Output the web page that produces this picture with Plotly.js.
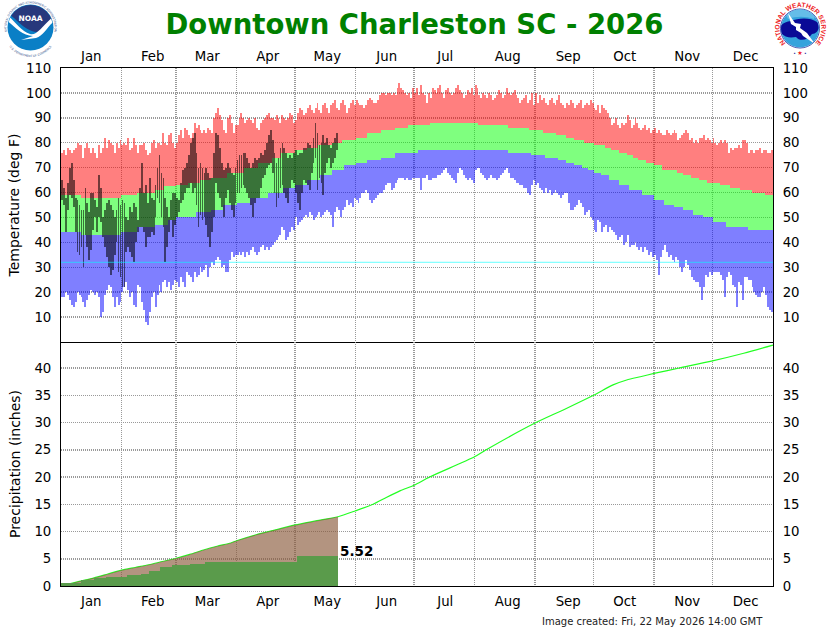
<!DOCTYPE html>
<html>
<head>
<meta charset="utf-8">
<title>Downtown Charleston SC - 2026</title>
<script src="https://cdn.plot.ly/plotly-3.0.1.min.js"></script>
<style>
html,body{margin:0;padding:0;background:#fff;}
#wrap{position:relative;width:830px;height:635px;overflow:hidden;}
#chart{position:absolute;left:0;top:0;width:830px;height:635px;}
svg.logo{position:absolute;overflow:visible;}
</style>
</head>
<body>
<div id="wrap">
<div id="chart"></div>
<svg class="logo" style="left:0;top:0" width="60" height="56" viewBox="0 0 60 56">
  <defs>
    <path id="noaaTop" d="M10.84 41.27 A24 24 0 1 1 50.16 41.27"/>
    <path id="noaaBot" d="M3.5 30 A27 27 0 0 0 57.5 30"/>
    <clipPath id="noaaClip"><circle cx="30.5" cy="27.5" r="22.5"/></clipPath>
  </defs>
  <circle cx="30.5" cy="27.5" r="23" fill="#0a7fc6"/>
  <g clip-path="url(#noaaClip)">
    <path d="M6 4 H56 V16 C49 22 44 29 38 32 C32 33 23 27 14 18 L6 12 Z" fill="#27387c"/>
    <path d="M6 13 C14 21 21 31 30 34 C37 36 42 26 56 14 L56 20 C47 26 44 36 36 38 L21 40 L33 36 C22 36 14 26 6 20 Z" fill="#fff"/>
  </g>
  <text x="30.5" y="20.5" text-anchor="middle" font-family="DejaVu Sans" font-weight="bold" font-size="7.5" fill="#fff">NOAA</text>
  <text font-family="DejaVu Sans" font-size="2.9" fill="#33518a"><textPath href="#noaaTop" startOffset="50%" text-anchor="middle">NATIONAL OCEANIC AND ATMOSPHERIC ADMINISTRATION</textPath></text>
  <text font-family="DejaVu Sans" font-size="2.9" fill="#33518a"><textPath href="#noaaBot" startOffset="50%" text-anchor="middle">U.S. DEPARTMENT OF COMMERCE</textPath></text>
</svg>
<svg class="logo" style="left:770px;top:0" width="60" height="58" viewBox="0 0 60 58">
  <defs>
    <path id="nwsTop" d="M18.45 45.2 A21 21 0 1 1 42.55 45.2"/>
    <clipPath id="nwsClip"><circle cx="30" cy="28.5" r="19"/></clipPath>
  </defs>
  <text font-family="Liberation Sans" font-weight="bold" font-size="6.6" fill="#ee1c25"><textPath href="#nwsTop" startOffset="50%" text-anchor="middle">NATIONAL WEATHER SERVICE</textPath></text>
  <circle cx="30" cy="28.5" r="19.5" fill="#fff" stroke="#1a2a9a" stroke-width="0.8"/>
  <circle cx="30" cy="28.5" r="19" fill="#35a3dc"/>
  <g clip-path="url(#nwsClip)">
    <path d="M9 30 C10 24 15 22 21 21 C28 18 40 17 47 22 C51 28 47 34 42 34 C38 40 30 42 26 37 C20 38 13 38 9 30 Z" fill="#0a0a96"/>
    <path d="M14 11 C22 8 38 8 46 12 L44 19 C36 16 26 16 18 19 Z" fill="#65bde8"/>
    <path d="M18 13 L25 23 L31 24 L30 28 L37 33 L45 44 L33 36 L31 33 L26 30 L26 27 L21 24 Z" fill="#fff"/>
  </g>
  <text x="30" y="55" text-anchor="middle" font-family="DejaVu Sans" font-size="4.5" fill="#1a2a9a">• <tspan fill="#ee1c25" font-size="6">★</tspan> •</text>
</svg>
</div>
<script>
// Temperature values by day of year (deg F)
var recordHigh = [
76,77,75,78,77,76,77,78,80,79,79,74,78,80,78,76,78,76,74,79,76,78,82,78,81,80,79,76,80,78,81,
79,80,79,82,77,78,82,79,76,79,79,80,77,75,76,80,81,78,80,80,79,84,80,79,83,84,80,78,
80,83,85,82,86,85,83,82,84,88,86,87,85,84,85,84,86,85,84,90,92,94,91,89,85,84,90,91,88,84,87,
87,90,92,90,88,89,90,89,88,90,86,85,88,89,90,91,92,90,90,89,91,90,88,91,90,89,90,92,91,88,
89,92,94,93,91,92,94,95,93,92,94,96,93,92,95,96,94,92,95,96,97,94,93,96,97,95,92,94,96,97,95,
97,96,95,95,94,95,97,98,97,96,96,97,99,100,100,99,100,100,99,100,99,102,104,102,101,100,99,100,98,102,
100,102,99,103,100,99,96,100,98,102,101,100,102,103,100,98,101,102,100,99,100,102,103,101,100,98,99,101,100,102,99,
103,102,99,98,100,99,98,100,99,97,98,99,101,100,98,99,102,100,99,100,101,99,98,96,97,98,99,96,97,100,95,
100,96,99,97,98,96,95,97,98,96,95,97,99,96,95,94,96,95,97,96,94,95,96,97,94,95,96,95,97,96,
94,93,95,92,95,94,93,92,90,87,88,90,87,86,88,87,88,91,89,86,87,90,88,86,85,86,87,85,86,84,85,
86,84,85,84,83,83,85,84,83,84,85,84,81,82,83,84,85,84,81,82,80,81,80,82,82,83,81,82,81,80,
82,80,79,80,81,80,81,80,76,78,77,78,78,79,78,81,81,80,76,77,77,76,77,77,78,76,77,77,76,76,77];
var normalHigh = [
59,59,59,59,59,59,59,59,59,59,58,58,58,58,58,58,58,58,58,58,58,58,58,58,58,58,58,58,58,58,58,
59,59,59,59,59,59,59,59,60,60,60,60,60,60,60,60,60,61,61,61,61,61,62.5,62.5,62.5,62.5,62.5,62.5,
63,63,63,63,63,63,64,64,64,64,64,64,65,65,65,65,65,65,66,66,66,66,66,66,66,66,68,68,68,68,68,
68,68,68,68,70,70,70,70,70,70,70,72,72,72,72,72,72,72,74,74,74,74,74,76,76,76,76,76,76,76,
77,77,77,77,77,77,78,78,78,78,78,78,79,79,79,79,79,79,79,80,80,80,80,80,81,81,81,81,81,81,81,
82,82,82,82,82,82,84,84,84,84,84,84,84,85,85,85,85,85,85,85,86,86,86,86,86,86,86,87,87,87,
87,87,87,87,87,87,87,87,88,88,88,88,88,88,88,88,88,88,88,88,88,88,88,88,88,88,88,88,88,88,88,
88,88,87,87,87,87,87,87,87,87,87,87,87,87,87,87,87,86,86,86,86,86,86,86,86,86,86,86,85,85,85,
85,85,85,85,84,84,84,84,84,84,84,83,83,83,83,83,82,82,82,82,81,81,81,81,81,80,80,80,80,80,
79,79,79,79,79,79,78,78,78,77,77,77,77,76,76,76,76,75,75,75,74,74,74,73,73,73,73,72,72,72,72,
71,71,71,71,69,69,69,69,69,69,69,69,68,68,68,67,67,67,67,66,66,66,66,65,65,65,65,64,64,64,
64,64,64,64,63,63,63,63,63,62,62,62,62,62,61,61,61,61,61,61,60,60,60,60,60,60,60,59,59,59,59];
var normalLow = [
44,44,44,44,44,44,44,44,44,44,43,43,43,43,43,43,43,43,43,43,43,43,43,43,43,43,43,43,43,43,43,
44,44,44,44,44,44,44,44,46,46,46,46,46,46,46,46,46,47,47,47,47,47,47,47,49,49,49,49,
50,50,50,50,50,50,50,50,50,50,52,52,52,52,52,52,52,52,53,53,53,53,53,53,55,55,55,55,55,55,55,
56,56,56,56,56,56,56,58,58,58,58,58,58,58,58,58,60,60,60,60,60,60,60,60,62,62,62,62,62,62,
63,63,63,63,63,63,65,65,65,65,65,65,65,67,67,67,67,67,67,69,69,69,69,69,69,71,71,71,71,71,71,
72,72,72,72,72,72,73,73,73,73,73,73,73,74,74,74,74,74,74,74,76,76,76,76,76,76,76,76,76,76,
76,76,77,77,77,77,77,77,77,77,77,77,77,77,77,77,77,77,77,77,77,77,77,77,77,77,77,77,77,77,77,
77,77,77,77,77,77,77,77,77,77,77,77,77,77,77,77,77,76,76,76,76,76,76,76,76,76,76,76,76,75,75,
75,75,75,75,75,74,74,74,74,74,74,74,73,73,73,73,72,72,72,72,71,71,71,71,70,70,70,69,69,69,
68,68,68,68,67,67,67,67,65,65,65,65,65,63,63,63,63,63,61,61,61,61,61,61,61,59,59,59,59,59,59,
57,57,57,57,57,55,55,55,55,55,54,54,54,54,54,53,53,53,53,53,51,51,51,51,51,50,50,50,50,50,
48,48,48,48,48,48,48,46,46,46,46,46,46,46,46,46,46,46,45,45,45,45,45,45,45,45,45,45,45,45,45];
var recordLow = [
18,18,20,19,17,15,14,16,20,19,18,16,14,17,19,21,20,19,20,18,10,12,19,21,23,22,18,14,18,15,16,
20,22,24,21,18,20,15,14,23,22,16,13,8,7,12,18,20,14,19,23,20,24,25,22,24,21,23,25,
24,22,26,24,22,28,27,26,24,28,26,27,30,28,29,31,26,30,32,31,33,34,33,30,31,28,28,33,36,34,35,
35,36,35,36,34,36,35,37,38,36,35,36,38,39,37,38,37,38,39,40,41,42,43,46,45,41,42,44,46,45,
50,47,48,49,50,51,50,52,51,49,50,51,52,50,51,52,53,52,51,46,52,54,53,50,53,54,57,55,56,54,58,
57,56,58,60,60,61,60,57,56,57,58,59,60,60,61,63,64,64,61,62,64,65,66,66,66,65,66,65,65,66,
66,66,66,61,66,66,67,65,65,66,66,66,67,67,68,69,70,68,67,66,65,64,68,70,69,67,66,65,66,65,64,
69,70,70,68,67,66,65,66,67,66,66,65,66,67,68,69,70,68,66,66,65,64,64,63,63,62,62,60,59,63,65,
63,64,62,61,60,62,60,61,59,60,61,60,59,58,59,60,60,56,53,53,54,55,57,56,54,51,52,53,50,49,
45,44,49,48,44,46,47,44,46,45,44,43,41,42,43,39,40,43,38,39,39,40,38,37,38,36,38,37,35,36,34,
35,33,27,34,37,39,36,34,35,33,32,34,33,30,28,30,33,31,29,26,25,24,24,22,17,22,27,26,28,27,
28,28,28,28,27,25,18,26,28,27,23,22,14,24,23,17,26,26,25,25,22,20,19,18,18,20,22,19,14,13,12];
var observedHigh = [
65,62,58,64,70,72,65,58,57,55,53,53,62,56,52,60,60,57,54,67,62,50,53,56,57,55,53,50,53,58,
55,57,56,50,49,54,52,56,54,49,62,72,60,63,56,66,58,57,63,70,75,68,66,58,54,50,57,60,60,58,
57,64,69,70,72,75,80,82,84,76,70,72,70,68,70,68,66,66,76,84,83,78,72,69,70,72,70,68,67,70,
73,75,75,76,76,74,72,70,72,74,73,74,76,75,77,80,83,85,81,76,72,74,78,80,78,76,74,75,74,76,
77,75,76,76,78,78,80,79,78,82,88,84,79,80,83,80,82,79,78,80,82,84];
var observedLow = [
57,55,44,53,59,58,54,44,36,35,38,30,43,38,33,37,45,50,44,50,48,42,38,34,30,27,29,35,40,28,
26,22,22,36,38,36,34,32,40,44,46,46,44,38,42,42,44,43,50,58,56,50,46,32,38,44,49,42,47,50,
52,56,57,60,62,62,64,60,62,55,46,51,49,50,47,42,38,44,50,64,60,58,54,50,58,61,56,53,50,56,
60,60,62,63,62,60,58,55,50,56,58,58,62,66,67,70,71,72,68,60,54,58,62,63,60,58,56,62,65,64,
60,56,53,60,65,64,63,61,68,72,74,61,66,64,59,68,72,74,70,72,74,77];
var freezingLevel = [32, 32];
var yearSpan = [0, 365];

// Precipitation (inches)
var precipDays = [0,3,10,17,24,31,38,45,52,59,66,73,80,87,90,100,110,120,130,142,151,160,167,174,181,189,212,218,243,258,273,283,290,297,304,317,334,350,365];
var precipNormal = [0,0.3,0.9,1.5,2.2,2.9,3.4,3.9,4.5,5.1,5.8,6.6,7.3,7.9,8.3,9.4,10.3,11.2,11.9,12.7,13.8,15.0,16.3,17.5,18.5,20.0,23.7,25.0,29.9,32.4,35.0,36.9,37.8,38.4,39.0,40.0,41.3,42.7,44.2];
var precipObserved = [
0.6,0.6,0.6,0.6,0.6,0.6,0.6,0.6,0.6,0.6,1.1,1.1,1.1,1.1,1.1,1.1,1.1,1.5,1.5,1.5,1.5,1.5,1.5,
1.6,1.6,1.6,1.6,1.6,1.6,1.6,1.6,1.6,1.6,1.6,2.0,2.0,2.0,2.0,2.0,2.0,2.0,2.2,2.2,2.2,2.2,
2.8,2.8,2.8,2.8,2.8,2.8,3.4,3.4,3.4,3.4,3.4,3.4,3.9,3.9,3.9,3.9,3.9,3.9,3.9,3.9,3.9,
4.0,4.0,4.0,4.0,4.0,4.0,4.0,4.0,
4.4,4.4,4.4,4.4,4.4,4.4,4.4,4.4,4.4,4.4,4.4,4.4,4.4,4.4,4.4,4.4,4.4,4.4,4.4,4.4,4.4,4.4,4.4,
4.4,4.4,4.4,4.4,4.4,4.4,4.4,4.4,4.4,4.4,4.4,4.4,4.4,4.4,4.4,4.4,4.4,4.4,4.4,4.4,4.4,4.4,4.4,4.4,
5.52,5.52,5.52,5.52,5.52,5.52,5.52,5.52,5.52,5.52,5.52,5.52,5.52,5.52,5.52,5.52,5.52,5.52,5.52,5.52,5.52];
var precipLabel = "5.52";

// Axis labels
var monthNames = ["Jan","Feb","Mar","Apr","May","Jun","Jul","Aug","Sep","Oct","Nov","Dec"];
var monthLabelDays = [15.5,47,75,106,136.5,167,197,229,260,289,321,351];
var monthStarts = [31,59,90,120,151,181,212,243,273,304,334];
var tempTicks = [10,20,30,40,50,60,70,80,90,100,110];
var precipTicks = [0,5,10,15,20,25,30,35,40];
var titleText = "Downtown Charleston SC - 2026";
var tempTitle = "\u00A0\u00A0\u00A0\u00A0Temperature (deg F)";
var precipTitle = "\u00A0\u00A0\u00A0Precipitation (inches)";
var createdText = "Image created: Fri, 22 May 2026 14:00 GMT";

var FONT = "DejaVu Sans";
function days(a){ return a.map(function(_,i){ return i+0.5; }); }
function diff(a,b){ return a.map(function(v,i){ return v-b[i]; }); }

var lastObsDay = observedHigh.length;
var fillDays = precipDays.filter(function(d){ return d<=lastObsDay; });
var fillVals = precipNormal.slice(0, fillDays.length);

function bar(x,top,base,color,width,xa,ya){
  return {type:"bar", x:x, y:diff(top,base), base:base, width:width,
          marker:{color:color, line:{width:0}}, xaxis:xa, yaxis:ya, hoverinfo:"skip", showlegend:false};
}

var traces = [
  bar(days(recordHigh), recordHigh, normalHigh, "rgba(255,0,0,0.5)", 1, "x","y"),
  bar(days(recordHigh), normalHigh, normalLow, "rgba(0,255,0,0.5)", 1, "x","y"),
  bar(days(recordHigh), normalLow, recordLow, "rgba(0,0,255,0.5)", 1, "x","y"),
  bar(days(observedHigh), observedHigh, observedLow, "rgba(0,0,0,0.55)", 0.9, "x","y"),
  {type:"scatter", mode:"lines", x:yearSpan, y:freezingLevel, line:{color:"rgba(0,255,255,0.6)", width:1},
   xaxis:"x", yaxis:"y3", hoverinfo:"skip", showlegend:false},
  {type:"scatter", mode:"lines", x:precipDays, y:precipNormal, line:{color:"#22ff22", width:1.2, shape:"spline", smoothing:0.7},
   xaxis:"x2", yaxis:"y2", hoverinfo:"skip", showlegend:false},
  {type:"scatter", mode:"lines", x:fillDays, y:fillVals, line:{width:0, shape:"spline", smoothing:0.7}, fill:"tozeroy", fillcolor:"rgba(139,90,60,0.65)",
   xaxis:"x2", yaxis:"y2", hoverinfo:"skip", showlegend:false},
  {type:"bar", x:days(precipObserved), y:precipObserved, width:1, marker:{color:"rgb(90,155,75)", line:{width:0}},
   xaxis:"x2", yaxis:"y4", hoverinfo:"skip", showlegend:false}
];

var tickFont = {family:FONT, size:13.3, color:"#000"};
var split = 244/518;
var GRID = {color:"#999999", dash:"1px,1px", width:1.5};
function monthAxis(anchor, side, len, mirror){
  return {range:yearSpan, anchor:anchor, side:side, tickmode:"array", tickvals:monthLabelDays, ticktext:monthNames,
    tickfont:tickFont, ticks:"outside", ticklen:len, tickcolor:"rgba(0,0,0,0)", tickangle:0, showgrid:false, zeroline:false,
    showline:true, linecolor:"#000", linewidth:1, mirror:mirror, fixedrange:true,
    minor:{tickmode:"array", tickvals:monthStarts, showgrid:true, gridcolor:GRID.color, griddash:GRID.dash, gridwidth:GRID.width, ticks:""}};
}
function valueAxis(range, domain, ticks, side, extra){
  var o = {range:range, domain:domain, tickmode:"array", tickvals:ticks, ticktext:ticks.map(String), tickfont:tickFont, side:side,
    ticks:"outside", ticklen:6, tickcolor:"rgba(0,0,0,0)", showgrid:side==="left", gridcolor:GRID.color, griddash:GRID.dash, gridwidth:GRID.width,
    zeroline:false, showline:true, linecolor:"#000", linewidth:1, fixedrange:true};
  for(var k in extra) o[k]=extra[k];
  return o;
}
var layout = {
  width:830, height:635, paper_bgcolor:"#fff", plot_bgcolor:"#fff",
  margin:{l:61, r:57, t:68, b:49, pad:0},
  barmode:"overlay", bargap:0, showlegend:false,
  title:{text:titleText, x:414.5/830, xanchor:"center", xref:"container", y:1-24/635, yanchor:"middle", yref:"container",
         font:{family:FONT, size:27.5, color:"#008000", weight:"bold"}},
  xaxis: monthAxis("y","top",1,true),
  xaxis2: monthAxis("y2","bottom",3,false),
  yaxis: valueAxis([0,110],[split,1],tempTicks,"left",{anchor:"x",
    title:{text:tempTitle, font:{family:FONT,size:14,color:"#000"}, standoff:3}}),
  yaxis2: valueAxis([0,244/5.45],[0,split],precipTicks,"left",{anchor:"x2",
    title:{text:precipTitle, font:{family:FONT,size:14,color:"#000"}, standoff:10}}),
  yaxis3: valueAxis([0,110],[split,1],tempTicks,"right",{overlaying:"y", anchor:"x"}),
  yaxis4: valueAxis([0,244/5.45],[0,split],precipTicks,"right",{overlaying:"y2", anchor:"x2"}),
  annotations:[
    {text:createdText, xref:"paper", yref:"paper", x:(765-61)/712, y:(586-621)/518, xanchor:"right", yanchor:"middle",
     showarrow:false, font:{family:FONT, size:10, color:"#222"}},
    {text:precipLabel, xref:"x2", yref:"y4", x:lastObsDay, y:precipObserved[precipObserved.length-1], xanchor:"left", yanchor:"middle",
     xshift:0, yshift:5, showarrow:false, font:{family:FONT, size:13.5, color:"#000", weight:"bold"}}
  ]
};
Plotly.newPlot("chart", traces, layout, {displayModeBar:false, staticPlot:true});
</script>
</body>
</html>
